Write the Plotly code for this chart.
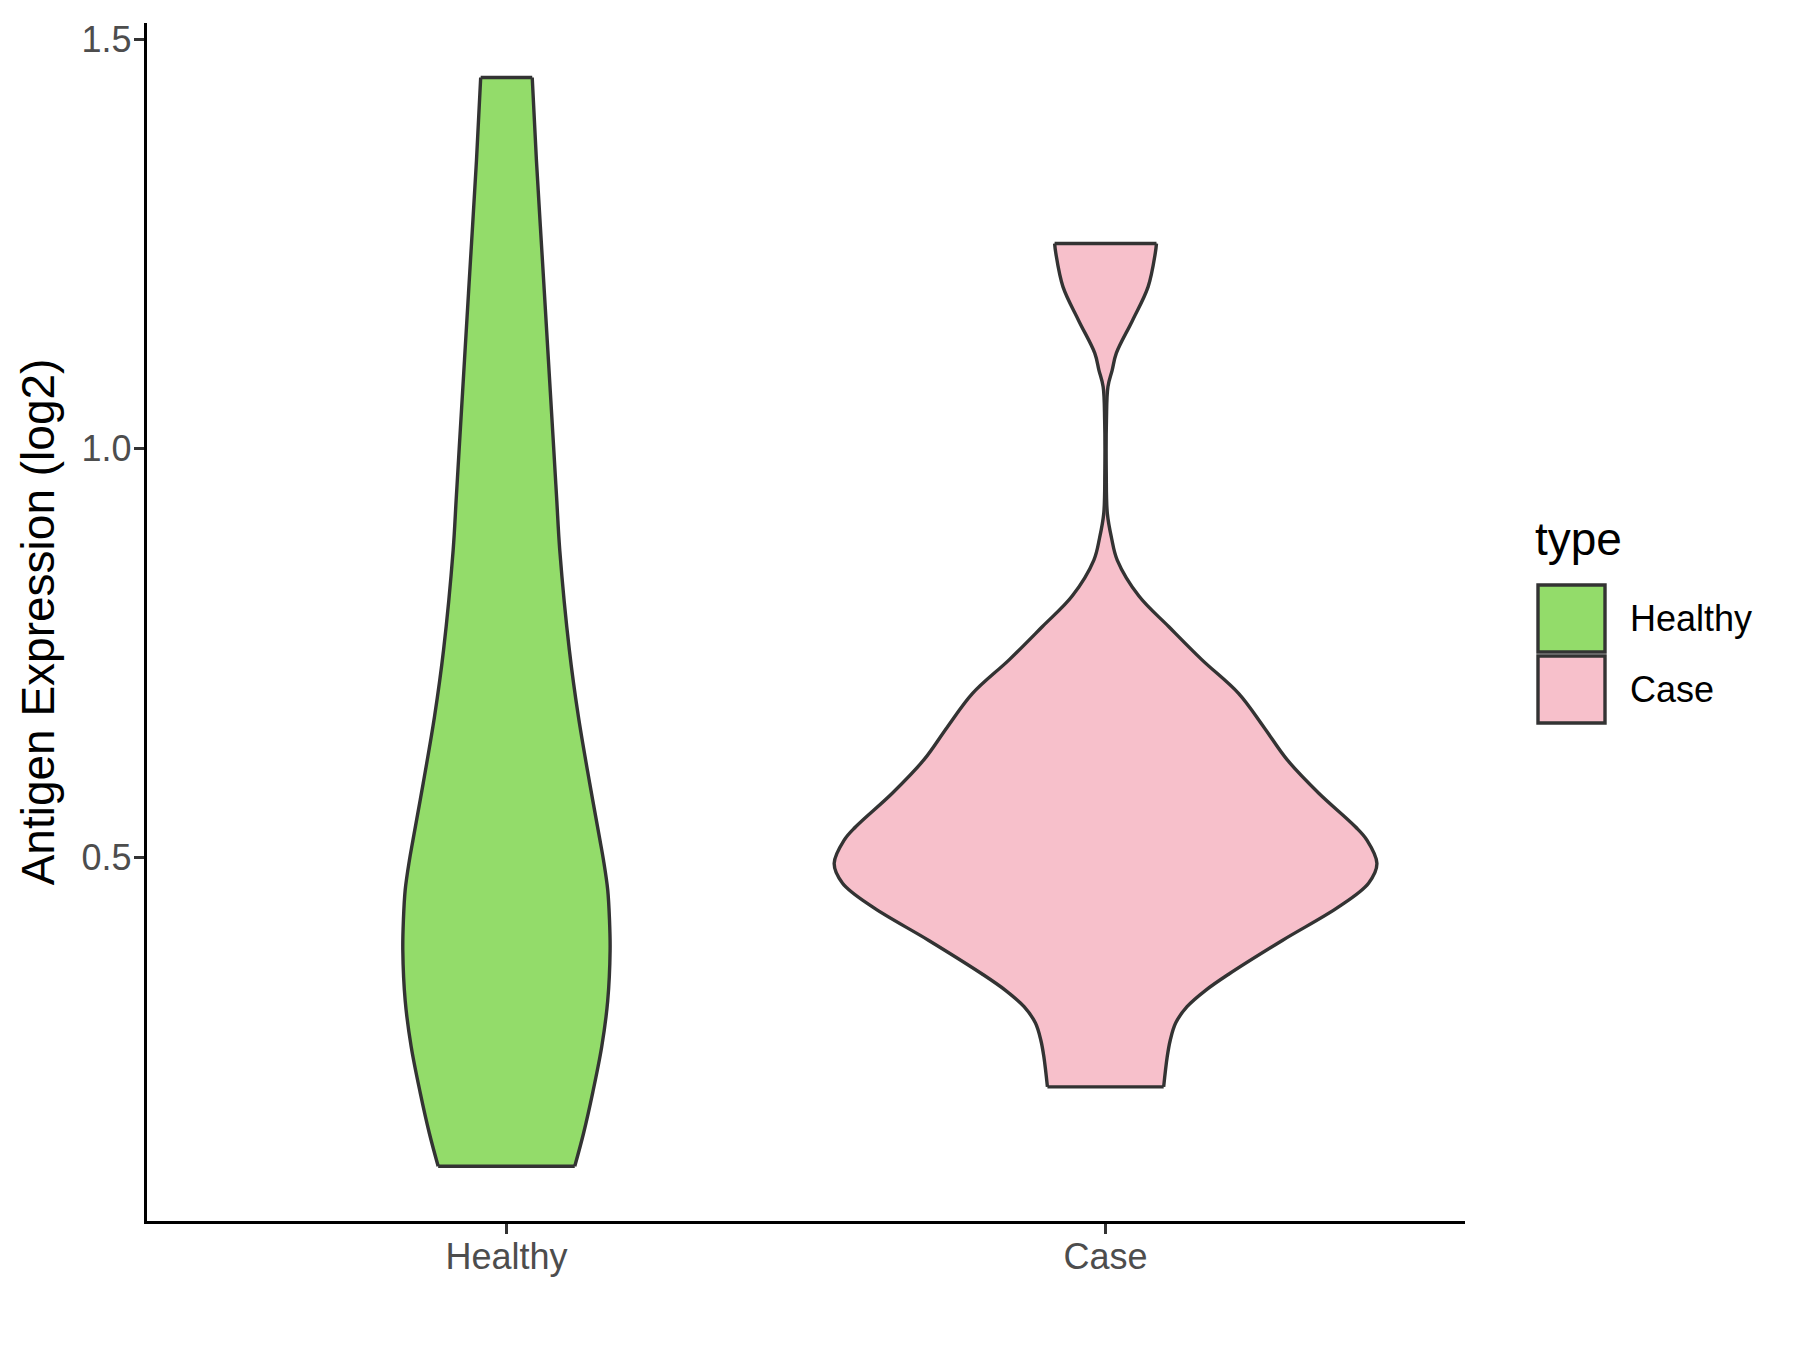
import plotly.graph_objects as go

# ---- data ----
categories = ["Healthy", "Case"]
category_pos = [0, 1]
fill_colors = ["#93DC6A", "#F7C0CB"]

# density profile: y value (log2 expression) and violin half-width (x units)
healthy_y = [1.453, 1.352, 1.23, 1.108, 0.998, 0.936, 0.875, 0.753, 0.672, 0.590,
             0.521, 0.496, 0.460, 0.423, 0.386, 0.324, 0.268, 0.212, 0.162, 0.122]
healthy_w = [0.043, 0.050, 0.060, 0.070, 0.079, 0.084, 0.089, 0.105, 0.120, 0.139,
             0.156, 0.162, 0.169, 0.172, 0.173, 0.169, 0.159, 0.144, 0.1286, 0.114]

case_y = [1.250, 1.238, 1.197, 1.156, 1.116, 1.095, 1.075, 1.034, 0.970, 0.920,
          0.890, 0.863, 0.819, 0.7815, 0.741, 0.700, 0.659, 0.619, 0.578, 0.537,
          0.521, 0.492, 0.468, 0.439, 0.398, 0.357, 0.337, 0.317, 0.297, 0.276,
          0.256, 0.219]
case_w = [0.085, 0.083, 0.071, 0.045, 0.018, 0.011, 0.004, 0.0015, 0.0012, 0.003,
          0.010, 0.0195, 0.0557, 0.1057, 0.161, 0.222, 0.264, 0.303, 0.356, 0.417,
          0.436, 0.453, 0.439, 0.389, 0.295, 0.206, 0.167, 0.136, 0.117, 0.108,
          0.103, 0.097]

y_ticks = [0.5, 1.0, 1.5]
y_tick_text = ["0.5", "1.0", "1.5"]
y_title = "Antigen Expression (log2)"
legend_title = "type"

FONT = "Liberation Sans, Arial, sans-serif"
OUTLINE = "#333333"
LW = 3.4

fig = go.Figure()

profiles = [(healthy_y, healthy_w), (case_y, case_w)]
for name, pos, color, (ys, ws) in zip(categories, category_pos, fill_colors, profiles):
    left_x = [pos - w for w in ws]
    right_x = [pos + w for w in ws]
    # left side (outline)
    fig.add_trace(go.Scatter(
        x=left_x, y=ys, mode="lines",
        line=dict(color=OUTLINE, width=LW, shape="spline", smoothing=1.0),
        name=name, showlegend=False, hoverinfo="skip"))
    # right side (outline) + body filled between the two sides
    fig.add_trace(go.Scatter(
        x=right_x, y=ys, mode="lines", fill="tonextx", fillcolor=color,
        line=dict(color=OUTLINE, width=LW, shape="spline", smoothing=1.0),
        name=name, showlegend=False, hoverinfo="skip"))
    # flat top and bottom edges
    fig.add_trace(go.Scatter(
        x=[left_x[0], right_x[0], None, left_x[-1], right_x[-1]],
        y=[ys[0], ys[0], None, ys[-1], ys[-1]], mode="lines",
        line=dict(color=OUTLINE, width=LW),
        showlegend=False, hoverinfo="skip"))

# ---- layout ----
OFF = 8  # page body margin of the html page
W, H = 1800 - OFF, 1350 - OFF
L, R, T, B = 147 - OFF, 335, 23 - OFF, 129
plot_w = W - L - R
plot_h = H - T - B

fig.update_layout(
    width=W, height=H,
    margin=dict(l=L, r=R, t=T, b=B, pad=0),
    paper_bgcolor="white", plot_bgcolor="white",
    font=dict(family=FONT, color="black"),
    showlegend=False,
    xaxis=dict(
        range=[-0.6, 1.6], tickmode="array", tickvals=category_pos, ticktext=categories,
        showgrid=False, zeroline=False, showline=True, linecolor="black", linewidth=3.3,
        ticks="outside", ticklen=10, tickwidth=3.3, tickcolor=OUTLINE,
        tickfont=dict(size=36, color="#4D4D4D", family=FONT),
        ticklabelstandoff=-8,
    ),
    yaxis=dict(
        range=[0.055, 1.5196], tickmode="array", tickvals=y_ticks, ticktext=y_tick_text,
        showgrid=False, zeroline=False, showline=True, linecolor="black", linewidth=3.3,
        ticks="outside", ticklen=10, tickwidth=3.3, tickcolor=OUTLINE,
        tickfont=dict(size=36, color="#4D4D4D", family=FONT),
        ticklabelstandoff=-5,
        title=dict(text=y_title, font=dict(size=46, color="black", family=FONT), standoff=13),
    ),
)

# ---- manual legend (ggplot-style) ----
def px_x(px):
    return (px - OFF - L) / plot_w

def px_y(py):
    return (H + OFF - B - py) / plot_h

key_boxes = [(585, 652), (656, 723)]
label_centers = [618, 689]
for (y_top, y_bot), color, name, yc in zip(key_boxes, fill_colors, categories, label_centers):
    fig.add_shape(type="rect", xref="paper", yref="paper",
                  x0=px_x(1538), x1=px_x(1605), y0=px_y(y_bot), y1=px_y(y_top),
                  fillcolor=color, line=dict(color=OUTLINE, width=LW))
    fig.add_annotation(text=name, xref="paper", yref="paper", x=px_x(1628), y=px_y(yc),
                       xanchor="left", yanchor="middle", showarrow=False,
                       font=dict(size=36, color="black", family=FONT))

fig.add_annotation(text=legend_title, xref="paper", yref="paper", x=px_x(1533), y=px_y(539),
                   xanchor="left", yanchor="middle", showarrow=False,
                   font=dict(size=46, color="black", family=FONT))

fig.write_html("out.html")
